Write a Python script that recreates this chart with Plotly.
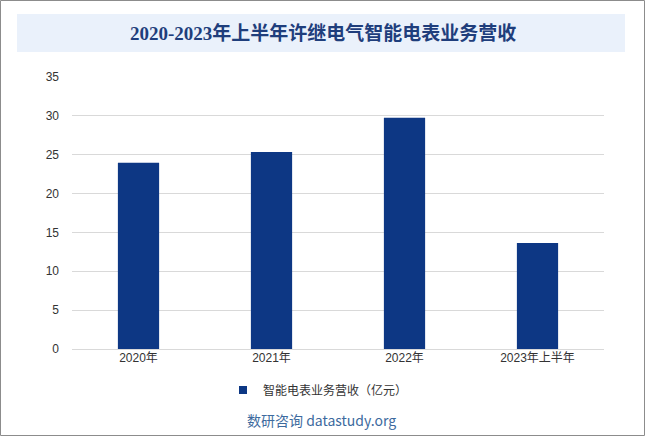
import plotly.graph_objects as go

# data
years = ["2020年", "2021年", "2022年", "2023年上半年"]
revenue = [23.95, 25.35, 29.75, 13.65]
series_name = "智能电表业务营收（亿元）"

W, H = 645, 436
L, R, T, B = 72, 41, 77, 87
pw, ph = W - L - R, H - T - B


def px_x(x):
    return (x - L) / pw


def px_y(y):
    return (H - B - y) / ph


bar_color = "#0d3784"

fig = go.Figure()
fig.add_trace(go.Bar(
    x=years,
    y=revenue,
    name=series_name,
    showlegend=False,
    marker=dict(color=bar_color, line=dict(width=0)),
))
# legend entry with a small square swatch
fig.add_trace(go.Scatter(
    x=[None], y=[None], mode="markers", name=series_name,
    marker=dict(symbol="square", size=8, color=bar_color),
))

fig.update_layout(
    width=W,
    height=H,
    margin=dict(l=L, r=R, t=T, b=B),
    paper_bgcolor="white",
    plot_bgcolor="white",
    bargap=0.69,
    font=dict(family="Liberation Sans, Noto Sans CJK SC, sans-serif", size=12, color="#333333"),
    xaxis=dict(showgrid=False, showline=False, ticks="", tickfont=dict(size=12, color="#333333")),
    yaxis=dict(range=[0, 35], dtick=5, showgrid=True, gridcolor="#d9d9d9", gridwidth=1,
               zeroline=True, zerolinecolor="#d9d9d9", zerolinewidth=1, showline=False,
               ticks="", ticklabelstandoff=12, tickfont=dict(size=12, color="#333333")),
    showlegend=True,
    legend=dict(orientation="h", x=px_x(318), xanchor="center", y=px_y(390), yanchor="middle",
                font=dict(size=12, color="#333333", family="Noto Sans CJK SC, sans-serif"),
                itemwidth=30),
    shapes=[
        dict(type="rect", xref="paper", yref="paper",
             x0=px_x(0.5), x1=px_x(W - 0.5), y0=px_y(H - 0.5), y1=px_y(0.5),
             line=dict(color="#8c8c8c", width=1), fillcolor="rgba(0,0,0,0)", layer="above"),
        dict(type="rect", xref="paper", yref="paper",
             x0=px_x(17), x1=px_x(625), y0=px_y(52), y1=px_y(14),
             line=dict(width=0), fillcolor="#eaf1fb", layer="below"),
    ],
    annotations=[
        dict(text="<b>2020-2023年上半年许继电气智能电表业务营收</b>", xref="paper", yref="paper",
             x=px_x(323), y=px_y(33), xanchor="center", yanchor="middle", showarrow=False,
             font=dict(size=19, color="#1f3e7c", family="Liberation Serif, Noto Sans CJK SC, serif")),
        dict(text="数研咨询 datastudy.org", xref="paper", yref="paper",
             x=px_x(321), y=px_y(420), xanchor="center", yanchor="middle", showarrow=False,
             font=dict(size=14, color="#3d6a9e", family="Noto Sans CJK SC, sans-serif")),
    ],
)

fig.write_html("out.html", config={"displayModeBar": False},
               post_script="document.body.style.margin='0';document.body.style.overflow='hidden';")
